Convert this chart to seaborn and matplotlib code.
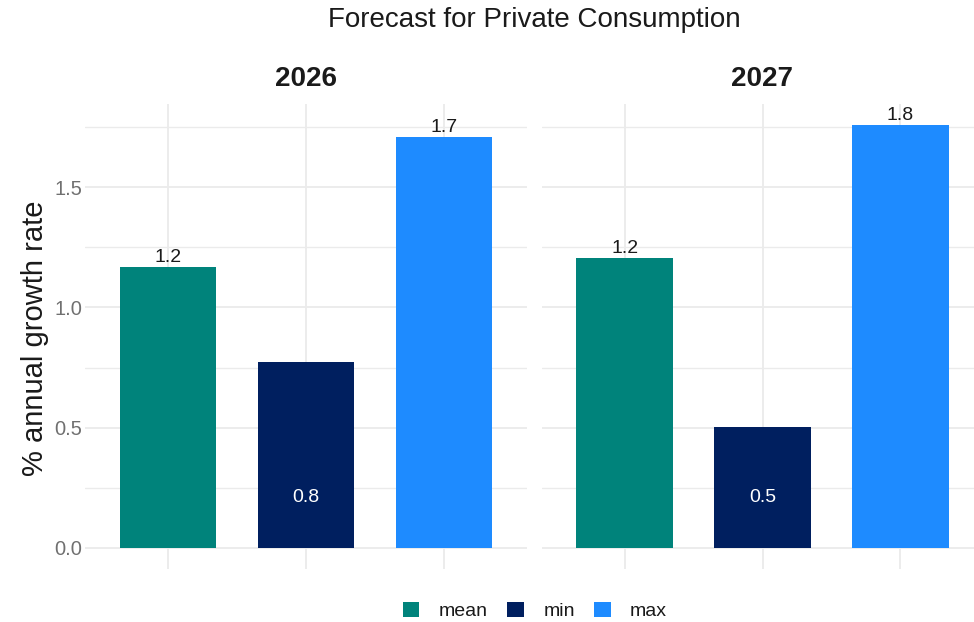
import matplotlib
matplotlib.use("Agg")
import matplotlib.pyplot as plt
from matplotlib.patches import Patch
from matplotlib.ticker import MultipleLocator
import pandas as pd
import seaborn as sns

# Forecast summary statistics per year (% annual growth rate)
years = ["2026", "2027"]
stats = ["mean", "min", "max"]
values_2026 = [1.168, 0.773, 1.708]
values_2027 = [1.205, 0.503, 1.758]
colors = ["#00837B", "#001F5F", "#1E8BFF"]

title = "Forecast for Private Consumption"
ylabel = "% annual growth rate"
y_ticks = [0.0, 0.5, 1.0, 1.5]
inside_label_y = 0.21  # height of the white labels inside the "min" bars

df = pd.DataFrame({
    "year": [y for y in years for _ in stats],
    "stat": stats * len(years),
    "value": values_2026 + values_2027,
})

sns.set_theme(style="white")
plt.rcParams["font.family"] = ["Liberation Sans", "DejaVu Sans"]

W, H = 974, 622
fig = plt.figure(figsize=(W / 100, H / 100), dpi=100)

grid_col = "#EBEBEB"
panel_px = [(85, 527), (542, 983)]
top_px, bottom_px = 104, 569
y_lo, y_hi = -0.0873, 1.845
palette = dict(zip(stats, colors))

for k, (year, (lpx, rpx)) in enumerate(zip(years, panel_px)):
    ax = fig.add_axes([lpx / W, 1 - bottom_px / H, (rpx - lpx) / W, (bottom_px - top_px) / H])
    sub = df[df["year"] == year]
    sns.barplot(data=sub, x="stat", y="value", hue="stat", order=stats,
                hue_order=stats, palette=palette, width=0.7, saturation=1,
                legend=False, ax=ax, zorder=3, linewidth=0, edgecolor="none")
    ax.set_xlim(-0.6, 2.6)
    ax.set_ylim(y_lo, y_hi)
    ax.yaxis.set_major_locator(MultipleLocator(0.5))
    ax.yaxis.set_minor_locator(MultipleLocator(0.25))
    ax.grid(True, which="major", axis="both", color=grid_col, lw=1.3, zorder=0)
    ax.grid(True, which="minor", axis="y", color=grid_col, lw=1.0, zorder=0)
    ax.set_axisbelow(True)
    for s in ax.spines.values():
        s.set_visible(False)
    ax.tick_params(axis="both", which="both", length=0)
    ax.set_xticklabels([])
    ax.set_xlabel("")
    ax.set_ylabel("")
    if k == 0:
        ax.set_yticks(y_ticks)
        ax.set_yticklabels([f"{t:.1f}" for t in y_ticks], fontsize=14.5, color="#707070")
        ax.tick_params(axis="y", pad=2)
    else:
        ax.set_yticklabels([])
    ax.set_title(year, fontsize=20, fontweight="bold", color="#1A1A1A", pad=13)

    for i, (stat, val) in enumerate(zip(sub["stat"], sub["value"])):
        if stat == "min":
            ax.text(i, inside_label_y, f"{val:.1f}", ha="center", va="center",
                    fontsize=14, color="white", zorder=4)
        else:
            ax.annotate(f"{val:.1f}", (i, val), xytext=(0, 0.5),
                        textcoords="offset points", ha="center", va="bottom",
                        fontsize=14, color="#1A1A1A", zorder=4)

fig.text(534 / W, 1 - 20 / H, title, ha="center", va="center",
         fontsize=20, color="#1A1A1A")
fig.text(35 / W, 1 - 338 / H, ylabel, ha="center", va="center",
         rotation=90, fontsize=21, color="#1A1A1A")

handles = [Patch(facecolor=c, edgecolor="none") for c in colors]
fig.legend(handles, stats, loc="center", bbox_to_anchor=(535 / W, 11 / H),
           ncol=3, frameon=False, fontsize=14, handlelength=0.85,
           handleheight=0.85, handletextpad=1.0, columnspacing=1.0,
           labelcolor="#1A1A1A")

fig.savefig("out.png", dpi=100)
